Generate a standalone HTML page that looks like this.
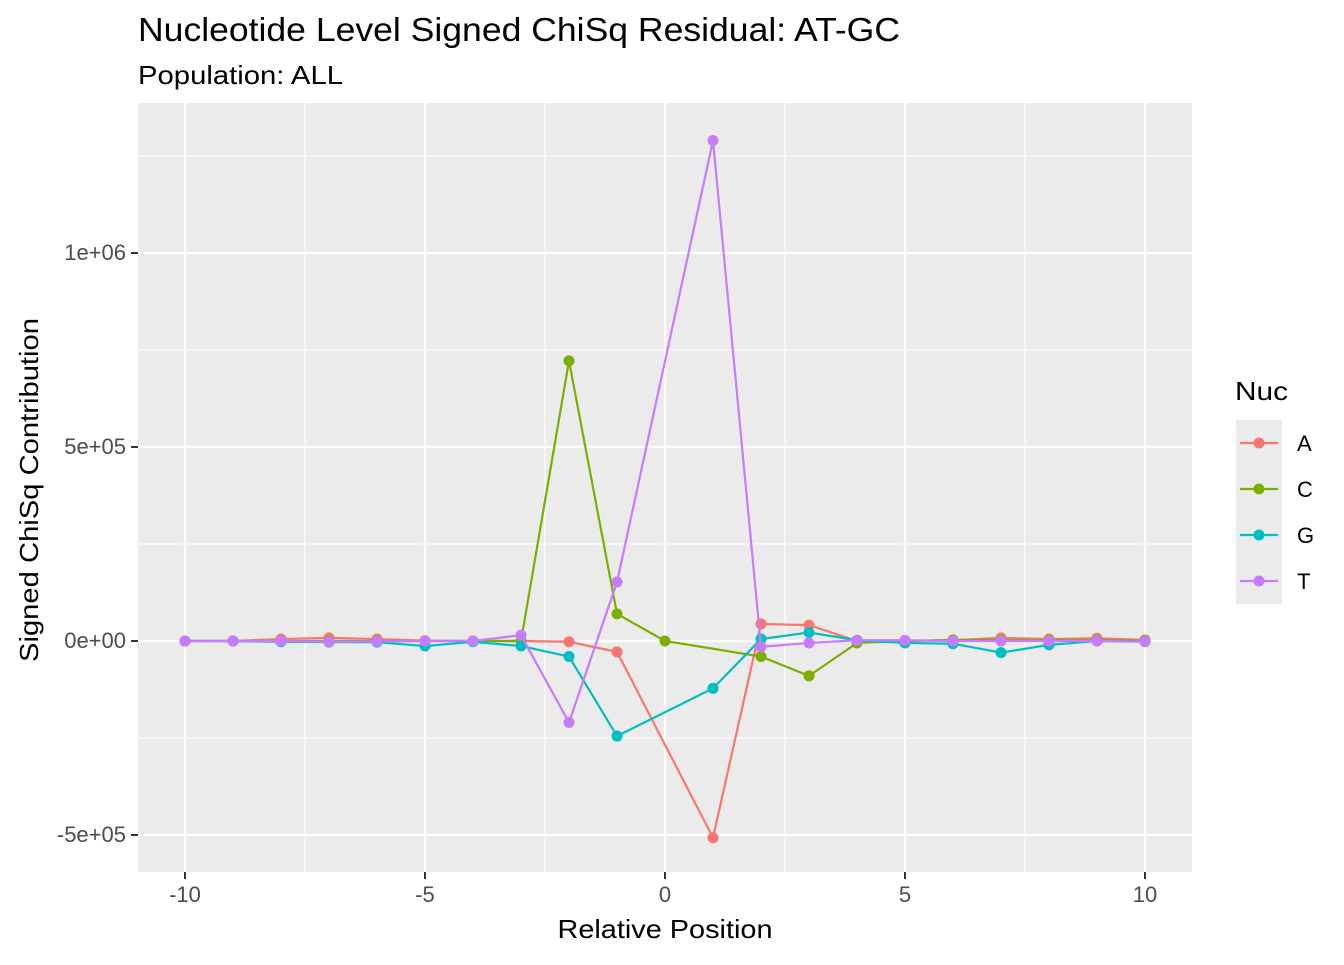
<!DOCTYPE html>
<html><head><meta charset="utf-8"><style>body{margin:0;background:#fff}svg text{font-family:"Liberation Sans",sans-serif}</style></head>
<body>
<svg id="chart" width="1344" height="960" xmlns="http://www.w3.org/2000/svg">
<text x="138" y="41" font-size="33" textLength="762" lengthAdjust="spacingAndGlyphs" fill="#000">Nucleotide Level Signed ChiSq Residual: AT-GC</text>
<text x="138" y="84" font-size="26" textLength="205" lengthAdjust="spacingAndGlyphs" fill="#000">Population: ALL</text>
<rect x="138" y="103" width="1054" height="769" fill="#EBEBEB"/>
<g id="grid"></g><g id="series"></g><g id="axes"></g>
<text x="665" y="938" font-size="26" text-anchor="middle" textLength="215" lengthAdjust="spacingAndGlyphs">Relative Position</text>
<text transform="translate(38,490) rotate(-90)" font-size="26" text-anchor="middle" textLength="344" lengthAdjust="spacingAndGlyphs">Signed ChiSq Contribution</text>
<g>
<text x="1235" y="400" font-size="26" textLength="53" lengthAdjust="spacingAndGlyphs">Nuc</text>
<g id="legend"></g></g>
</svg>
<script>
const positions=[-10,-9,-8,-7,-6,-5,-4,-3,-2,-1,0,1,2,3,4,5,6,7,8,9,10];
const seriesNames=["A","C","G","T"];
const valuesA=[0,0,5e3,8e3,5e3,1e3,0,0,-2e3,-2.8e4,null,-5.07e5,4.4e4,4.1e4,0,0,2e3,8e3,5e3,7e3,3e3];
const valuesC=[0,0,0,0,0,0,0,0,7.22e5,7e4,0,null,-4e4,-9e4,-5e3,0,3e3,2e3,2e3,2e3,0];
const valuesG=[0,0,-2e3,-3e3,-3e3,-1.3e4,-2e3,-1.3e4,-4e4,-2.45e5,null,-1.22e5,5e3,2.2e4,2e3,-5e3,-7e3,-3e4,-1e4,0,-1e3];
const valuesT=[0,0,0,-2e3,-1e3,0,0,1.5e4,-2.1e5,1.52e5,null,1.29e6,-1.5e4,-5e3,2e3,2e3,0,0,0,0,-2e3];
const xTicks=[-10,-5,0,5,10];
const xTickLabels=["-10","-5","0","5","10"];
const yTicks=[-5e5,0,5e5,1e6];
const yTickLabels=["-5e+05","0e+00","5e+05","1e+06"];
const colors=["#F8766D","#7CAE00","#00BFC4","#C77CFF"];
const NS="http://www.w3.org/2000/svg";
const xs=v=>665+v*48, ys=v=>641-v*388e-6;
function mk(tag,attrs,parent){const e=document.createElementNS(NS,tag);for(const k in attrs)e.setAttribute(k,attrs[k]);parent.appendChild(e);return e;}
const grid=document.getElementById('grid'),axes=document.getElementById('axes'),ser=document.getElementById('series'),leg=document.getElementById('legend');
[-7.5,-2.5,2.5,7.5].forEach(v=>{const l=mk('line',{x1:xs(v),x2:xs(v),y1:103,y2:872,stroke:'#fff','stroke-width':1.1},grid);});
[-2.5e5,2.5e5,7.5e5,1.25e6].forEach(v=>{const l=mk('line',{x1:138,x2:1192,y1:ys(v),y2:ys(v),stroke:'#fff','stroke-width':1.1},grid);});
xTicks.forEach((v,i)=>{const l=mk('line',{x1:xs(v),x2:xs(v),y1:103,y2:872,stroke:'#fff','stroke-width':2.2},grid);
const t=mk('line',{x1:xs(v),x2:xs(v),y1:872,y2:879,stroke:'#333','stroke-width':2},axes);
const tx=mk('text',{x:xs(v),y:902,'font-size':22,fill:'#4D4D4D','text-anchor':'middle'},axes);tx.textContent=xTickLabels[i];});
yTicks.forEach((v,i)=>{const l=mk('line',{x1:138,x2:1192,y1:ys(v),y2:ys(v),stroke:'#fff','stroke-width':2.2},grid);
const t=mk('line',{x1:131,x2:138,y1:ys(v),y2:ys(v),stroke:'#333','stroke-width':2},axes);
const tx=mk('text',{x:126,y:ys(v)+7,'font-size':22,fill:'#4D4D4D','text-anchor':'end'},axes);tx.textContent=yTickLabels[i];});
[valuesA,valuesC,valuesG,valuesT].forEach((vals,si)=>{
 const g=mk('g',{},ser);
 const pts=[];vals.forEach((v,i)=>{if(v!==null)pts.push([xs(positions[i]),ys(v)]);});
 const pl=mk('polyline',{points:pts.map(p=>p.join(',')).join(' '),fill:'none',stroke:colors[si],'stroke-width':2.2},g);
 pts.forEach(p=>{const c=mk('circle',{cx:p[0],cy:p[1],r:5.5,fill:colors[si]},g);});
 const y=443+si*46;
 const bg=mk('rect',{x:1236,y:y-23,width:46,height:46,fill:'#EBEBEB'},leg);
 const ll=mk('line',{x1:1240,x2:1278,y1:y,y2:y,stroke:colors[si],'stroke-width':2.2},leg);
 const lc=mk('circle',{cx:1259,cy:y,r:5.5,fill:colors[si]},leg);
 const lt=mk('text',{x:1297,y:y+8,'font-size':22,fill:'#000'},leg);lt.textContent=seriesNames[si];
});
</script>
</body></html>
